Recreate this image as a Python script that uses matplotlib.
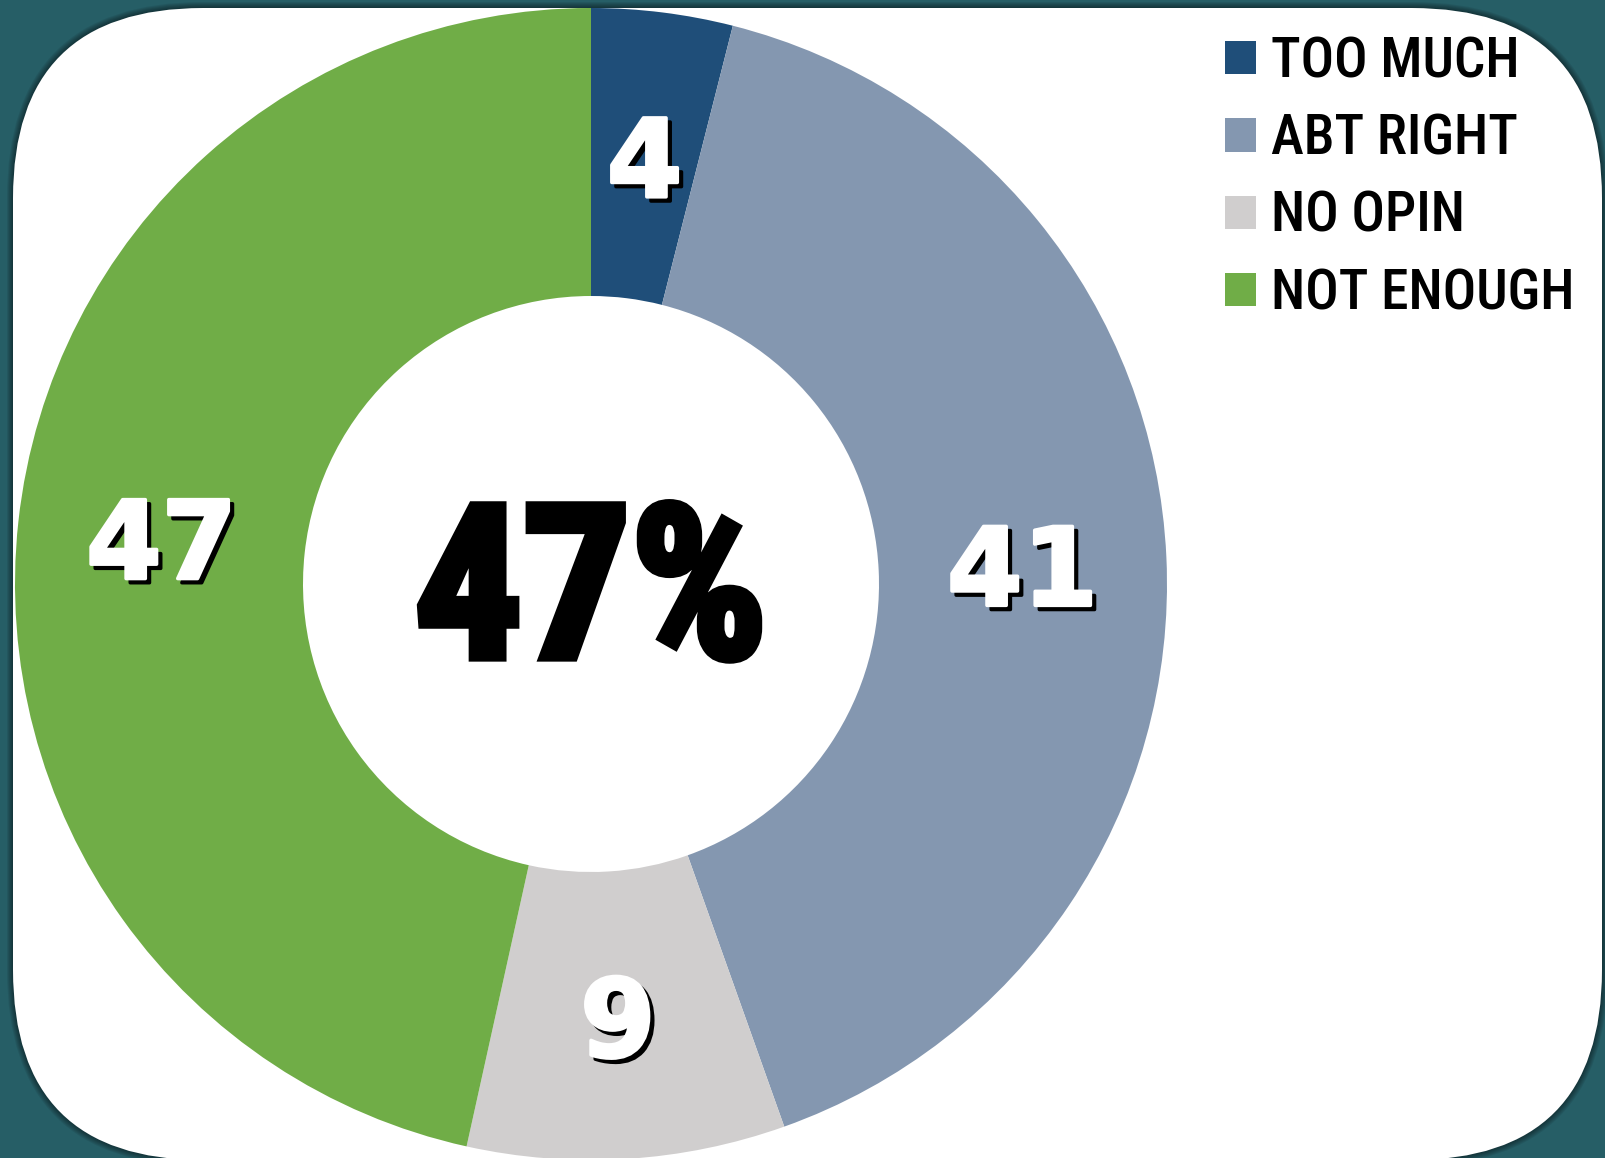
import matplotlib
matplotlib.use('Agg')
import matplotlib.pyplot as plt
import matplotlib.patheffects as pe
from matplotlib import font_manager
from matplotlib.patches import FancyBboxPatch
from matplotlib.transforms import IdentityTransform
import numpy as np

categories = ['TOO MUCH', 'ABT RIGHT', 'NO OPIN', 'NOT ENOUGH']
values = [4, 41, 9, 47]
colors = ['#1F4E79', '#8497B0', '#D0CECE', '#70AD47']
center_label = '47%'

# pick a narrow face if one is around
installed = {f.name for f in font_manager.fontManager.ttflist}
narrow = 'Liberation Sans'
for name in ['Liberation Sans Narrow', 'DejaVu Sans Condensed', 'Roboto Condensed']:
    if name in installed:
        narrow = name
        break

W, H = 1605, 1158
fig = plt.figure(figsize=(W / 100, H / 100), dpi=100)
fig.patch.set_facecolor('#265E66')

# soft shadow + white card with rounded corners (pixel coords)
for i in range(6, 0, -1):
    sh = FancyBboxPatch((13 - i, -2 - i), 1589 + 2 * i, 1152 + 2 * i,
                        boxstyle='round,pad=0,rounding_size=%d' % (190 + i),
                        transform=IdentityTransform(), facecolor='black',
                        edgecolor='none', alpha=0.08, zorder=-3)
    fig.add_artist(sh)
card = FancyBboxPatch((13, -2), 1589, 1152,
                      boxstyle='round,pad=0,rounding_size=190',
                      transform=IdentityTransform(), facecolor='white',
                      edgecolor='none', zorder=-2)
fig.add_artist(card)

# donut: centre (591, 584) px, radius 576 px
cx, cy, R = 591, 584, 576
ax = fig.add_axes([(cx - R) / W, (H - cy - R) / H, 2 * R / W, 2 * R / H])
ax.patch.set_visible(False)
wedges, _ = ax.pie(values, colors=colors, startangle=90, counterclock=False,
                   wedgeprops=dict(width=0.5, edgecolor='none'))
ax.set_xlim(-1, 1)
ax.set_ylim(-1, 1)
ax.set_aspect('equal')
ax.axis('off')

shadow = [pe.SimplePatchShadow(offset=(3, -3), shadow_rgbFace='black', alpha=1.0,
                               foreground='black', linewidth=2.5),
          pe.Stroke(linewidth=2.5, foreground='white'),
          pe.Normal()]
for w, v in zip(wedges, values):
    ang = np.deg2rad((w.theta1 + w.theta2) / 2)
    ax.text(0.75 * np.cos(ang), 0.75 * np.sin(ang) - 0.02, str(v),
            ha='center', va='center', fontsize=78, fontweight='bold',
            color='white', family='DejaVu Sans', path_effects=shadow)

ax.text(0.0, -0.026, center_label, ha='center', va='center', fontsize=154,
        fontweight='bold', color='black', family=narrow,
        path_effects=[pe.Stroke(linewidth=6, foreground='black', joinstyle='miter'),
                      pe.Normal()])

fig.legend(wedges, categories, loc='upper left',
           bbox_to_anchor=(1225 / W, (H - 35) / H), frameon=False,
           prop={'family': narrow, 'size': 40, 'weight': 'medium'},
           handlelength=0.55, handleheight=0.55, handletextpad=0.27,
           labelspacing=0.44, borderpad=0, borderaxespad=0)

fig.savefig('out.png', dpi=100, facecolor=fig.get_facecolor())
